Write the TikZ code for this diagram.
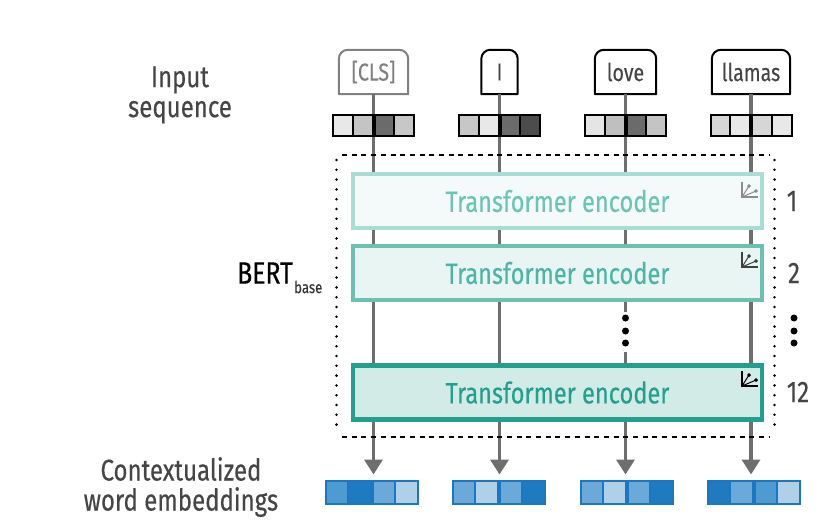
\documentclass[tikz,border=0pt]{standalone}
\usepackage{xcolor}
\usepackage{fontspec}
\setmainfont[FakeStretch=0.8, FakeBold=0.35]{Fira Sans}
\usetikzlibrary{arrows.meta, positioning, calc}

\definecolor{textgray}{HTML}{454545}
\definecolor{linegray}{HTML}{6E6E6E}
\definecolor{tealA}{HTML}{A8DDD5}
\definecolor{tealB}{HTML}{6CC0B2}
\definecolor{tealC}{HTML}{22A08F}
\definecolor{tealtextA}{HTML}{6CC4B5}
\definecolor{tealtextB}{HTML}{4DB5A5}
\definecolor{fillA}{HTML}{F3FAF9}
\definecolor{fillB}{HTML}{E8F5F3}
\definecolor{fillC}{HTML}{D3EBE7}
\definecolor{blueline}{HTML}{1A78C2}
\definecolor{blueA}{HTML}{1F7AC0}
\definecolor{blueB}{HTML}{4D9BD1}
\definecolor{blueC}{HTML}{6BA9D9}
\definecolor{blueD}{HTML}{B0D0E8}

\tikzset{
	label text/.style={font=\fontsize{30}{30}\selectfont, text=textgray, align=center, inner sep=0pt},
	token/.style={font=\fontsize{24.5}{26}\selectfont, text=textgray, minimum height=44pt, inner sep=0pt},
	token line/.style={line width=2pt, line join=round},
	encoder/.style={line width=4.5pt, minimum width=409pt, minimum height=54pt, inner sep=0pt, font=\fontsize{29.5}{31}\selectfont},
	flow/.style={draw=linegray, line width=3.5pt},
	flow arrow/.style={flow, -{Triangle[width=18pt,length=15pt]}, shorten >=5pt},
	gray cell/.style={draw=black, line width=2pt, minimum width=19.75pt, minimum height=21pt, inner sep=0pt},
	blue cell/.style={draw=blueline, line width=2pt, minimum width=22.5pt, minimum height=23pt, inner sep=0pt},
	dot/.style={circle, fill=black, minimum size=7pt, inner sep=0pt},
	frame dash/.style={line width=2pt, dash pattern=on 5pt off 4.7pt},
	frame dot/.style={line width=2.8pt, line cap=round, dash pattern=on 0pt off 9.8pt},
	axes icon/.pic={
		\draw [pic actions, fill=none, line width=1.3pt] (0,-15) -- (0,0) -- (16,0);
		\draw [pic actions, fill=none, line width=1pt] (0,0) -- (7,-11) (0,0) -- (14,-6);
		\fill [pic actions] (7,-11) circle (1.7pt) (14,-6) circle (1.7pt);
	}
}

% one row of four cells, (#1) is the centre of the row
\newcommand{\cellrow}[8]{
	\coordinate (#1) at (#2);
	\node [#3, fill=#5, left=0pt of #1, xshift=-#4] (#1a) {};
	\node [#3, fill=#6, left=0pt of #1] (#1b) {};
	\node [#3, fill=#7, right=0pt of #1] (#1c) {};
	\node [#3, fill=#8, right=0pt of #1, xshift=#4] (#1d) {};
}

\begin{document}
\begin{tikzpicture}[x=1pt, y=-1pt]
	\useasboundingbox (0,0) rectangle (826,522);

	% tokens
	\node [token, text=black!50, minimum width=69pt] (cls) at (373.5,72) {[CLS]};
	\node [token, minimum width=36pt] (tokI) at (499.5,72) {I};
	\node [token, minimum width=61pt] (love) at (625.5,72) {love};
	\node [token, minimum width=78pt] (llamas) at (751,72) {llamas};
	\foreach \tok/\col in {cls/black!50, tokI/black, love/black, llamas/black} {
		\draw [token line, draw=\col, rounded corners=9pt] (\tok.south west) -- (\tok.north west) -- (\tok.north east) [sharp corners] -- (\tok.south east) -- cycle;
	}

	% encoders
	\node [encoder, draw=tealA, fill=fillA, text=tealtextA] (encA) at (557.5,201) {Transformer encoder};
	\node [encoder, draw=tealB, fill=fillB, text=tealtextB] (encB) at (557.5,273) {Transformer encoder};
	\node [encoder, draw=tealC, fill=fillC, text=tealC] (encC) at (557.5,392.5) {Transformer encoder};
	\pic [draw=black!45, fill=black!45] at (742,197) {axes icon};
	\pic [draw=black!75, fill=black!75] at (742,267) {axes icon};
	\pic [draw=black, fill=black] at (742,386) {axes icon};

	% dots
	\node [dot] (dotA) at (625.5,318) {};
	\node [dot] (dotB) at (625.5,331) {};
	\node [dot] (dotC) at (625.5,343) {};
	\node [dot] (dotD) at (794,318) {};
	\node [dot] (dotE) at (794,331) {};
	\node [dot] (dotF) at (794,343) {};

	% blue vectors
	\cellrow{embA}{371.5,492}{blue cell}{22.5pt}{blueB}{blueA}{blueC}{blueD}
	\cellrow{embB}{498.5,492}{blue cell}{22.5pt}{blueC}{blueD}{blueC}{blueA}
	\cellrow{embC}{626.5,492}{blue cell}{22.5pt}{blueC}{blueD}{blueC}{blueA}
	\cellrow{embD}{753.5,492}{blue cell}{22.5pt}{blueA}{blueC}{blueB}{blueD}

	% flow lines
	\foreach \tok/\emb in {cls/embAa, tokI/embBa, love/embCa, llamas/embDa} {
		\draw [flow] (\tok.south) -- (\tok.south |- encA.north);
		\draw [flow] (\tok.south |- encA.south) -- (\tok.south |- encB.north);
		\draw [flow arrow] (\tok.south |- encC.south) -- (\tok.south |- \emb.north);
	}
	\foreach \tok in {cls, tokI, llamas} {
		\draw [flow] (\tok.south |- encB.south) -- (\tok.south |- encC.north);
	}
	\draw [flow, shorten >=2.5pt] (love.south |- encB.south) -- (dotA);
	\draw [flow, shorten <=5.5pt] (dotC) -- (love.south |- encC.north);

	% gray vectors
	\cellrow{inA}{373.5,125}{gray cell}{19.75pt}{black!9}{black!23}{black!58}{black!22}
	\cellrow{inB}{499.5,125}{gray cell}{19.75pt}{black!22}{black!9}{black!58}{black!70}
	\cellrow{inC}{625.5,125}{gray cell}{19.75pt}{black!10}{black!25}{black!58}{black!23}
	\cellrow{inD}{751,125}{gray cell}{19.75pt}{black!16}{black!9}{black!16}{black!9}

	% BERT frame
	\draw [frame dash] (342,154.5) -- (769,154.5);
	\draw [frame dash] (342,437) -- (769,437);
	\draw [frame dot] (336.5,160) -- (336.5,432);
	\draw [frame dot] (774.5,160) -- (774.5,432);

	% labels
	\node [label text] (input) at (180,95) {Input\\sequence};
	\node [label text] (context) at (181,487) {Contextualized\\word embeddings};
	\node [label text, text=black, anchor=west, font=\fontsize{31}{31}\selectfont] (bert) at (237,273) {BERT};
	\node [inner sep=0pt, anchor=west, text=black!80, font=\fontsize{16.5}{18}\selectfont] (base) at (294,287) {base};
	\node [label text] (one) at (792,201) {1};
	\node [label text] (two) at (794,273) {2};
	\node [label text] (twelve) at (798,392) {12};
\end{tikzpicture}
\end{document}
